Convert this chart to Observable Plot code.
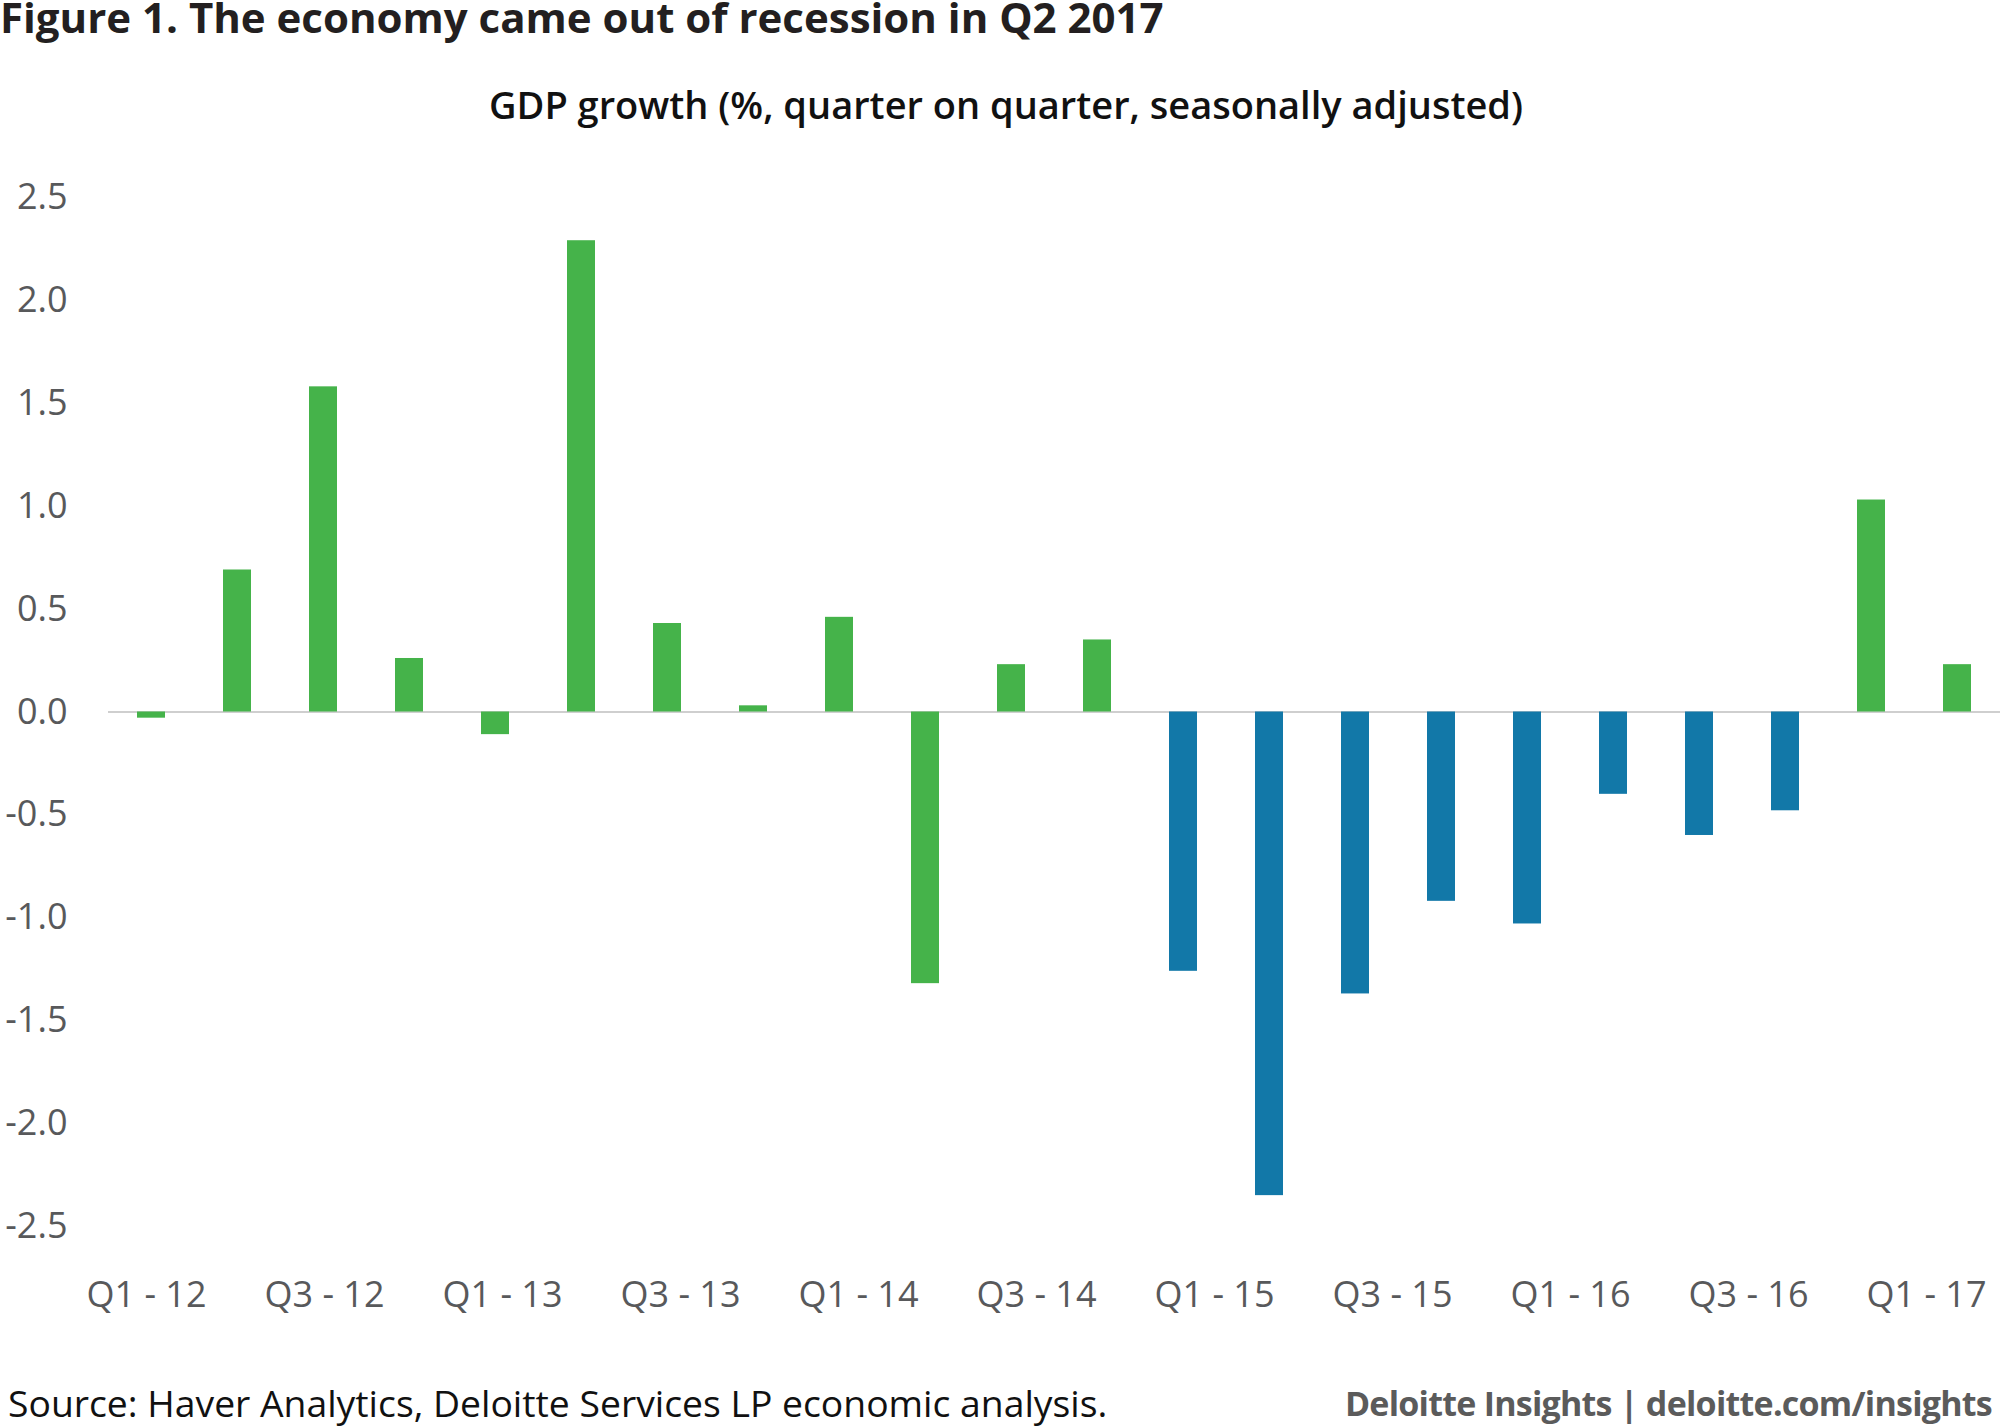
<!DOCTYPE html>
<html>
<head>
<meta charset="utf-8">
<script src="https://cdn.jsdelivr.net/npm/d3@7"></script>
<script src="https://cdn.jsdelivr.net/npm/@observablehq/plot@0.6"></script>
<style>
  body { margin: 0; background: #fff; }
  #wrap { position: relative; width: 2000px; height: 1428px; overflow: hidden; font-family: "Open Sans", sans-serif; }
  #title { position: absolute; left: 0; top: 0; font-size: 42px; line-height: 34px; font-weight: 700; color: #231f20; white-space: nowrap; }
  #subtitle { position: absolute; left: 6px; width: 2000px; text-align: center; top: 85px; font-size: 38px; line-height: 38px; font-weight: 600; color: #111; white-space: nowrap; }
  #chart { position: absolute; left: 0; top: 150px; }
  #xaxis { position: absolute; left: 0; top: 1226px; }
  #source { position: absolute; left: 8px; top: 1384px; font-size: 37.3px; line-height: 37px; color: #111; white-space: nowrap; }
  #brand { position: absolute; right: 8px; top: 1385px; font-size: 34px; line-height: 36px; font-weight: 700; letter-spacing: -0.75px; color: #5b5b5b; white-space: nowrap; }
</style>
</head>
<body>
<div id="wrap">
  <div id="title">Figure 1. The economy came out of recession in Q2 2017</div>
  <div id="subtitle">GDP growth (%, quarter on quarter, seasonally adjusted)</div>
  <div id="chart"></div>
  <div id="xaxis"></div>
  <div id="source">Source: Haver Analytics, Deloitte Services LP economic analysis.</div>
  <div id="brand">Deloitte Insights | deloitte.com/insights</div>
</div>
<script>
const quarters = [
  "Q1 - 12", "Q2 - 12", "Q3 - 12", "Q4 - 12",
  "Q1 - 13", "Q2 - 13", "Q3 - 13", "Q4 - 13",
  "Q1 - 14", "Q2 - 14", "Q3 - 14", "Q4 - 14",
  "Q1 - 15", "Q2 - 15", "Q3 - 15", "Q4 - 15",
  "Q1 - 16", "Q2 - 16", "Q3 - 16", "Q4 - 16",
  "Q1 - 17", "Q2 - 17"
];
const growth = [
  -0.03, 0.69, 1.58, 0.26,
  -0.11, 2.29, 0.43, 0.03,
  0.46, -1.32, 0.23, 0.35,
  -1.26, -2.35, -1.37, -0.92,
  -1.03, -0.40, -0.60, -0.48,
  1.03, 0.23
];
const recessionQuarters = [
  "Q1 - 15", "Q2 - 15", "Q3 - 15", "Q4 - 15",
  "Q1 - 16", "Q2 - 16", "Q3 - 16", "Q4 - 16"
];
const phases = ["Growth", "Recession"];
const phaseColors = ["#45b34a", "#1278a8"];
const xTickLabels = [
  "Q1 - 12", "Q3 - 12", "Q1 - 13", "Q3 - 13", "Q1 - 14", "Q3 - 14",
  "Q1 - 15", "Q3 - 15", "Q1 - 16", "Q3 - 16", "Q1 - 17"
];
const yTicks = [-2.5, -2.0, -1.5, -1.0, -0.5, 0, 0.5, 1.0, 1.5, 2.0, 2.5];

const data = quarters.map((q, i) => ({
  quarter: q,
  growth: growth[i],
  phase: recessionQuarters.includes(q) ? "Recession" : "Growth"
}));

const baseStyle = { fontFamily: "Open Sans", fontSize: "36px", color: "#58595b", background: "transparent" };

const chart = Plot.plot({
  width: 2000,
  height: 1190,
  marginTop: 47,
  marginBottom: 114,
  marginLeft: 108,
  marginRight: 0,
  style: baseStyle,
  x: { domain: quarters, paddingInner: 0.68, paddingOuter: 0.34, label: null, axis: null },
  y: { domain: [-2.5, 2.5], label: null },
  color: { domain: phases, range: phaseColors },
  marks: [
    Plot.ruleY([0], { stroke: "#cfcfcf", strokeWidth: 2 }),
    Plot.barY(data, { x: "quarter", y: "growth", fill: "phase" }),
    Plot.axisY({ ticks: yTicks, tickSize: 0, tickPadding: 41, tickFormat: d => d.toFixed(1), label: null })
  ]
});
document.getElementById("chart").appendChild(chart);

// Category labels (every second quarter), laid out on their own evenly spaced axis as in the original
const xAxis = Plot.plot({
  width: 2000,
  height: 110,
  marginTop: 0,
  marginBottom: 109,
  marginLeft: 144,
  marginRight: 73,
  style: baseStyle,
  x: { type: "point", domain: xTickLabels, padding: 0, label: null },
  marks: [
    Plot.axisX({ tickSize: 0, tickPadding: 54, label: null })
  ]
});
document.getElementById("xaxis").appendChild(xAxis);
</script>
</body>
</html>
